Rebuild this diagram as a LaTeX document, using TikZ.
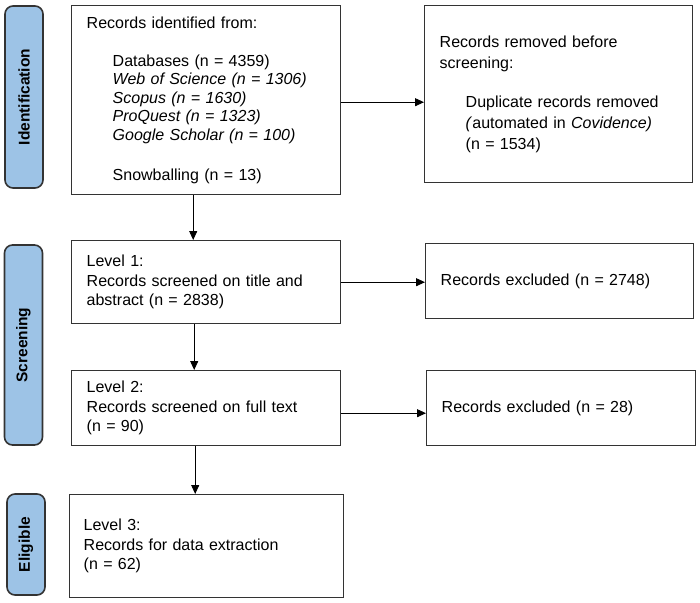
\documentclass[tikz,border=0pt]{standalone}
\usepackage{fontspec}
\setmainfont{Liberation Sans}
\usetikzlibrary{arrows.meta}
\definecolor{phasefill}{HTML}{9DC3E6}
\definecolor{boxline}{HTML}{333333}
\tikzset{>={Triangle[length=9pt,width=8pt]}}
\tikzset{
  recbox/.style={draw=boxline, line width=1.4pt, anchor=north west, align=left,
    inner xsep=15pt, inner ysep=0pt, font=\fontsize{16}{19.5}\selectfont},
  phase/.style={draw=boxline, line width=1.6pt, fill=phasefill, rounded corners=8pt,
    rotate=90, inner sep=0pt, minimum height=38pt,
    font=\bfseries\fontsize{15.5}{18}\selectfont},
  flow/.style={->, line width=0.9pt, black}
}
\newcommand{\ind}{\hspace*{26pt}}

\begin{document}
\begin{tikzpicture}[x=1pt,y=-1pt]
    \useasboundingbox (0,0) rectangle (700,602);
    % phases
    \node[phase, minimum width=182pt] (identification) at (24,97) {Identification};
    \node[phase, minimum width=200pt] (screening) at (23.5,345) {Screening};
    \node[phase, minimum width=101pt] (eligible) at (26,544.5) {Eligible};
    % records
    \node[recbox, text width=239pt, minimum height=189pt,
          font=\fontsize{16}{18.6}\selectfont] (identified) at (71,5)
        {Records identified from:\\[19pt]
         \ind Databases (n = 4359)\\
         \ind\textit{Web of Science (n = 1306)}\\
         \ind\textit{Scopus (n = 1630)}\\
         \ind\textit{ProQuest (n = 1323)}\\
         \ind\textit{Google Scholar (n = 100)}\\[21pt]
         \ind Snowballing (n = 13)};
    \node[recbox, text width=238pt, minimum height=177pt,
          font=\fontsize{16}{21}\selectfont] (removed) at (424,5)
        {Records removed before\\
         screening:\\[18pt]
         \ind Duplicate records removed\\
         \ind\textit{(}automated in \textit{Covidence)}\\
         \ind(n = 1534)};
    \node[recbox, text width=239pt, minimum height=83pt] (level1) at (71,240)
        {Level 1:\\ Records screened on title and\\ abstract (n = 2838)};
    \node[recbox, text width=238pt, minimum height=75pt] (excluded1) at (425,243)
        {Records excluded (n = 2748)};
    \node[recbox, text width=239pt, minimum height=75pt] (level2) at (71,370)
        {Level 2:\\ Records screened on full text\\ (n = 90)};
    \node[recbox, text width=239pt, minimum height=75pt] (excluded2) at (426,370)
        {Records excluded (n = 28)};
    \node[recbox, text width=246pt, inner xsep=14pt, minimum height=103pt] (level3) at (69,494)
        {Level 3:\\ Records for data extraction\\ (n = 62)};
    % arrows
    \draw[flow] ([yshift=-2pt]identified.east) -- ([yshift=-2pt]identified.east -| removed.west);
    \draw[flow] (level1.east) -- (level1.east -| excluded1.west);
    \draw[flow] ([yshift=-5pt]level2.east) -- ([yshift=-5pt]level2.east -| excluded2.west);
    \draw[flow] ([xshift=-13pt]identified.south) -- ([xshift=-13pt]identified.south |- level1.north);
    \draw[flow] ([xshift=-12pt]level1.south) -- ([xshift=-12pt]level1.south |- level2.north);
    \draw[flow] ([xshift=-11pt]level2.south) -- ([xshift=-11pt]level2.south |- level3.north);
\end{tikzpicture}
\end{document}
